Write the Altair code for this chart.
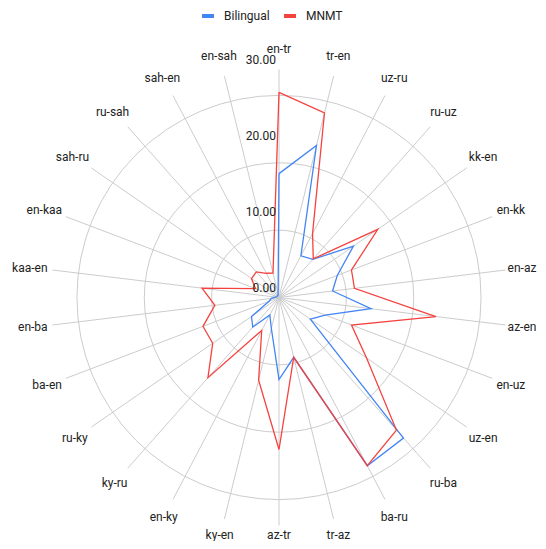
import altair as alt
import pandas as pd

categories = ["en-tr", "tr-en", "uz-ru", "ru-uz", "kk-en", "en-kk", "en-az", "az-en",
              "en-uz", "uz-en", "ru-ba", "ba-ru", "tr-az", "az-tr", "ky-en", "en-ky",
              "ky-ru", "ru-ky", "ba-en", "en-ba", "kaa-en", "en-kaa", "sah-ru", "ru-sah",
              "sah-en", "en-sah"]
bilingual = [16.3, 20.6, 6.2, 6.7, 11.9, 8.2, 7.1, 12.2, 6.5, 5.0, 24.7, 25.0, 8.1,
             10.8, 4.2, 2.6, 5.2, 4.4, 1.4, 1.0, 0.5, 0.3, 0.3, 0.3, 0.3, 0.5]
mnmt = [27.0, 25.0, 9.5, 6.8, 15.8, 10.2, 10.0, 20.8, 10.2, 14.0, 23.3, 25.0, 8.1,
        20.0, 11.2, 4.9, 14.1, 10.6, 10.7, 8.5, 10.2, 3.3, 4.4, 4.5, 3.6, 3.3]
series_names = ["Bilingual", "MNMT"]
series_colors = ["#4285F4", "#F4433F"]
ring_values = [10, 20, 30]
tick_values = [0, 10, 20, 30]
tick_labels = ["0.00", "10.00", "20.00", "30.00"]

N = len(categories)
RMAX = 30
W, H = 530, 533
CX, CY = 271.0, 289.5      # centre of the radar inside the plot area (px)
PX = 7.6                   # pixels per unit

xs = alt.Scale(domain=[-CX / PX, (W - CX) / PX], nice=False, zero=False)
ys = alt.Scale(domain=[-(H - CY) / PX, CY / PX], nice=False, zero=False)

rows = []
for name, vals in zip(series_names, [bilingual, mnmt]):
    for i in range(N + 1):
        rows.append({"series": name, "idx": i, "cat": categories[i % N], "value": vals[i % N]})
series_df = pd.DataFrame(rows)
cat_df = pd.DataFrame({"idx": list(range(N)), "cat": categories})
ring_df = pd.DataFrame({"r": ring_values})
tick_df = pd.DataFrame({"r": tick_values, "label": tick_labels})

ang = f"datum.idx * 2 * PI / {N}"

spokes = alt.Chart(cat_df).transform_calculate(
    x0="0", y0="0",
    x1=f"{RMAX} * sin({ang})", y1=f"{RMAX} * cos({ang})"
).mark_rule(color="#cccccc", strokeWidth=1).encode(
    x=alt.X("x0:Q", scale=xs, axis=None),
    y=alt.Y("y0:Q", scale=ys, axis=None),
    x2="x1:Q", y2="y1:Q"
)

rings = alt.Chart(ring_df).transform_calculate(
    x0="0", y0="0", sz=f"PI * pow(datum.r * {PX}, 2)"
).mark_point(shape="circle", filled=False, color="#cccccc", strokeWidth=1, opacity=1).encode(
    x=alt.X("x0:Q", scale=xs, axis=None),
    y=alt.Y("y0:Q", scale=ys, axis=None),
    size=alt.Size("sz:Q", scale=None, legend=None)
)

lines = alt.Chart(series_df).transform_calculate(
    x=f"datum.value * sin({ang})", y=f"datum.value * cos({ang})"
).mark_line(strokeWidth=1.3).encode(
    x=alt.X("x:Q", scale=xs, axis=None),
    y=alt.Y("y:Q", scale=ys, axis=None),
    order="idx:Q",
    color=alt.Color("series:N",
                    scale=alt.Scale(domain=series_names, range=series_colors),
                    legend=alt.Legend(title=None, orient="none", direction="horizontal",
                                      legendX=192, legendY=0,
                                      symbolType="stroke", symbolSize=144,
                                      symbolStrokeWidth=4, labelFont="Roboto",
                                      labelFontSize=12, labelColor="#222222",
                                      labelOffset=8, columnPadding=6))
)

ticks = alt.Chart(tick_df).transform_calculate(
    x0="0", y0="datum.r"
).mark_text(align="right", baseline="bottom", dx=-3, dy=-3, font="Roboto",
            fontSize=12, color="#222222").encode(
    x=alt.X("x0:Q", scale=xs, axis=None),
    y=alt.Y("y0:Q", scale=ys, axis=None),
    text="label:N"
)

max_right = W - 1 - CX          # px from centre to the right edge of the view
max_down = H - 6.5 - CY          # px from centre to the lowest label centre
labels = alt.Chart(cat_df).transform_calculate(
    lx0=f"({RMAX * PX} + 5 + 3 * length(datum.cat)) * sin({ang})",
    ly0=f"({RMAX * PX} + 16 + 5 * abs(cos({ang}))) * cos({ang})"
).transform_calculate(
    lx=f"min(datum.lx0, {max_right} - 3 * length(datum.cat)) / {PX}",
    ly=f"max(datum.ly0, {-max_down}) / {PX}"
).mark_text(align="center", baseline="middle", font="Roboto", fontSize=12,
            color="#222222").encode(
    x=alt.X("lx:Q", scale=xs, axis=None),
    y=alt.Y("ly:Q", scale=ys, axis=None),
    text="cat:N"
)

chart = alt.layer(rings, spokes, lines, ticks, labels).properties(
    width=W, height=H, padding=0,
    autosize=alt.AutoSizeParams(type="none")
).configure_view(stroke=None)

chart.save("out.html", embed_options={"renderer": "svg", "actions": False})
